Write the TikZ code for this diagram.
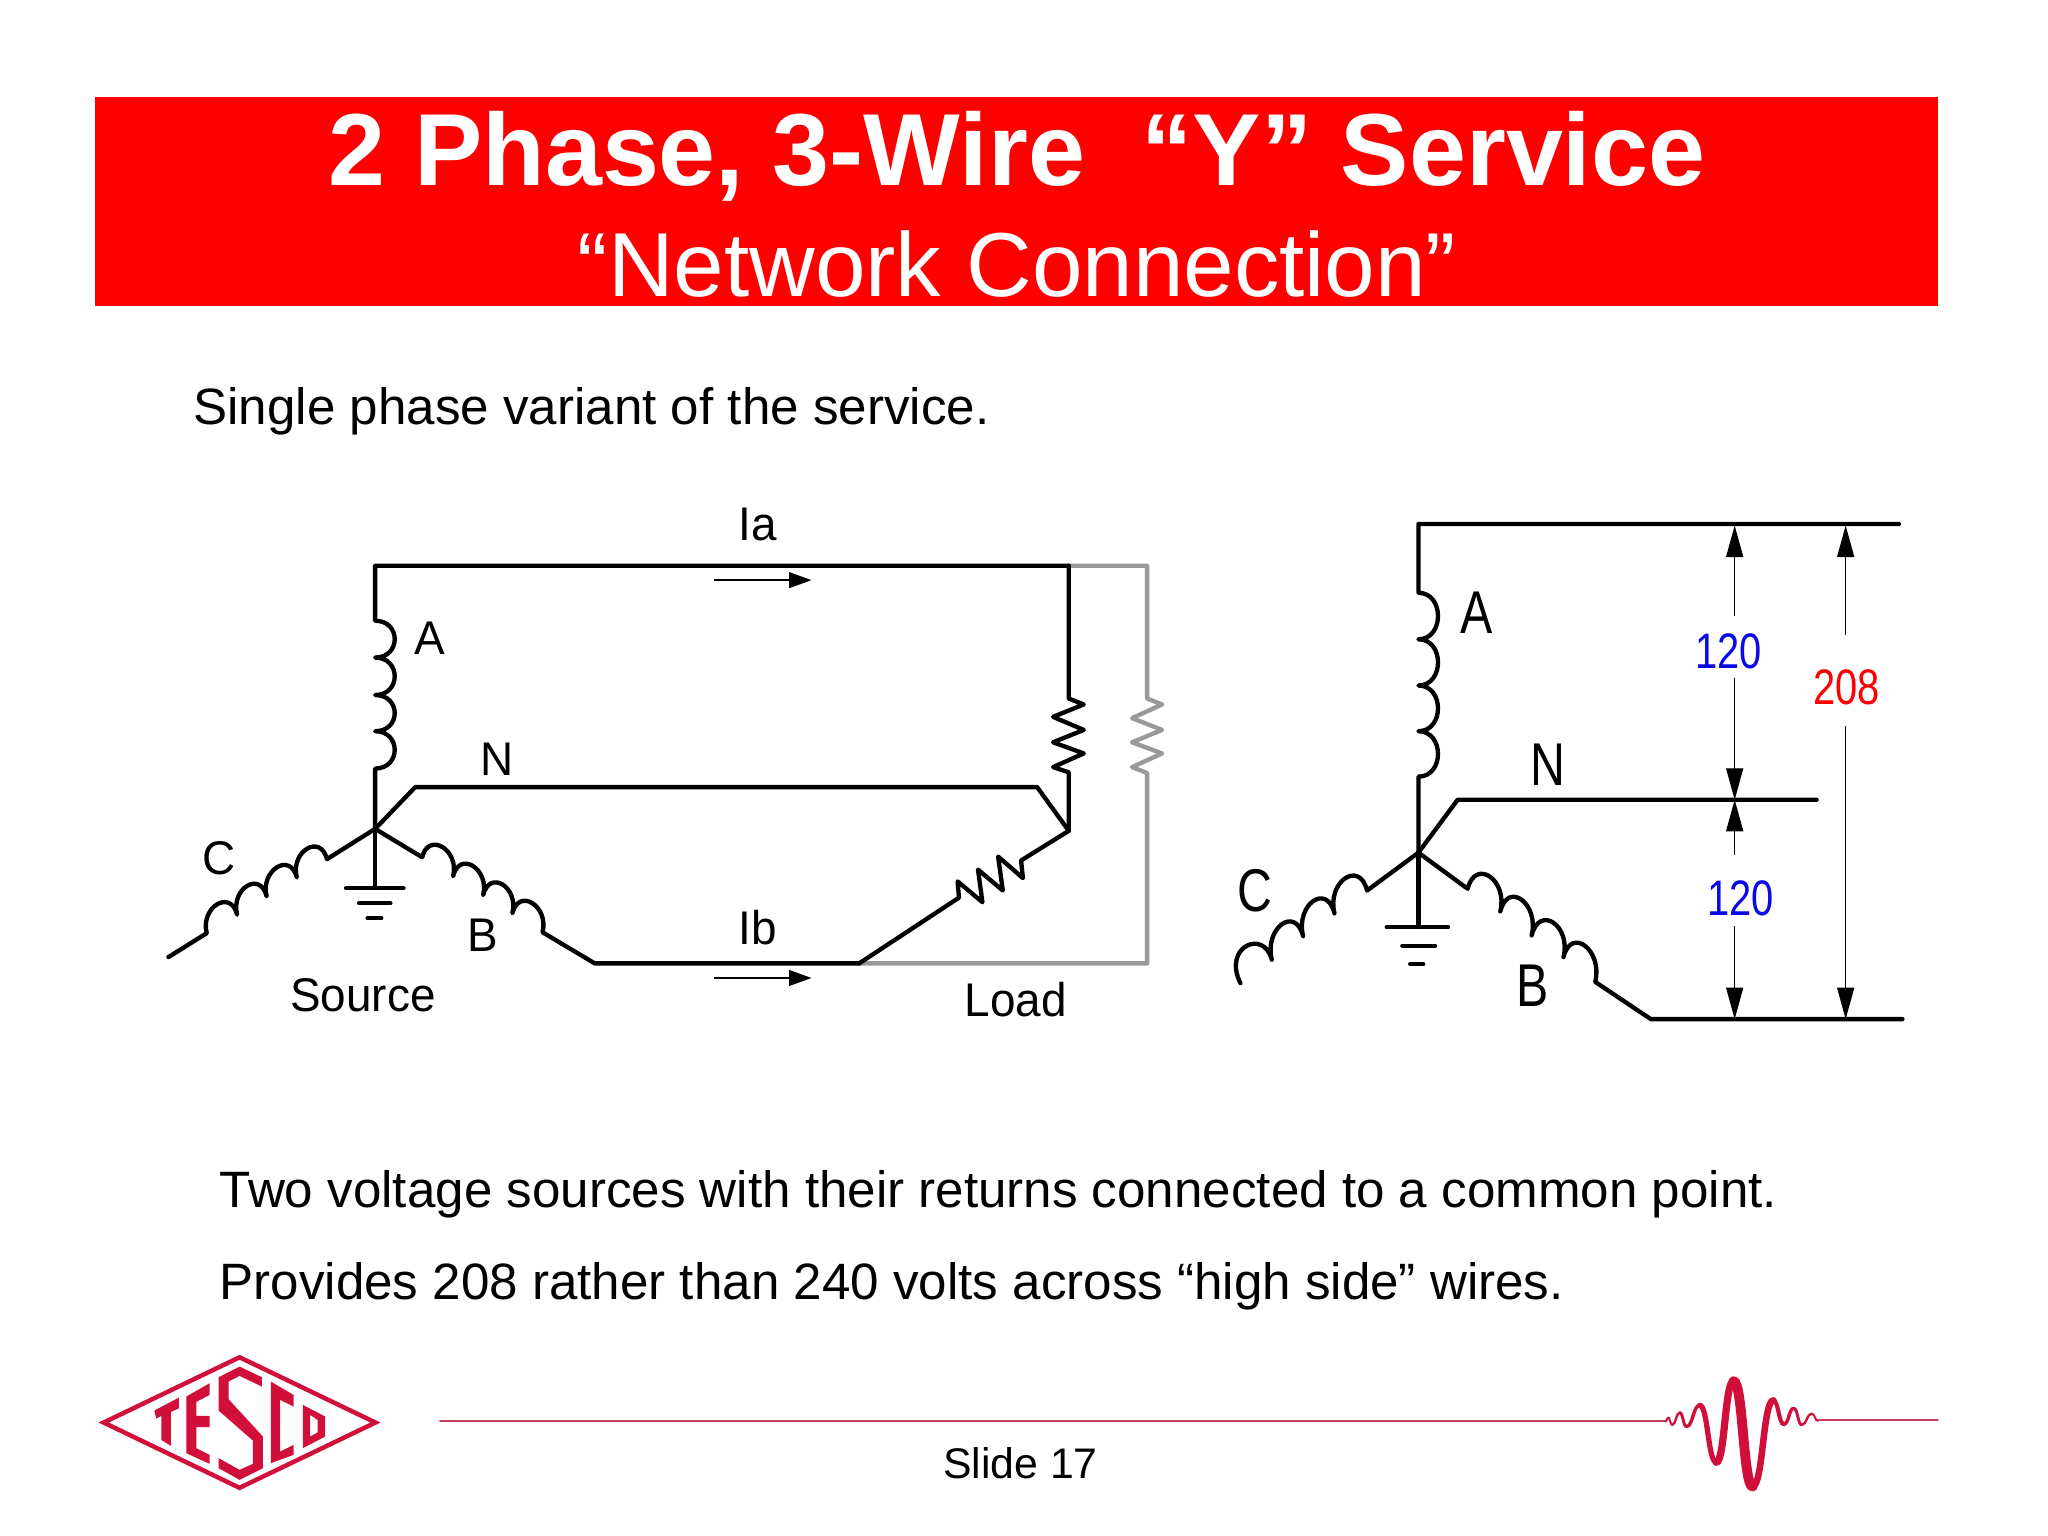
\documentclass[tikz,border=0pt]{standalone}
\usepackage{fontspec}
\setmainfont{Liberation Sans}
\newfontfamily\dgmfont[FakeStretch=0.97]{Liberation Sans}
\newfontfamily\dgmrfont[FakeStretch=0.8]{Liberation Sans}
\usetikzlibrary{arrows.meta}
\definecolor{tescored}{HTML}{D0103A}
\definecolor{rulered}{HTML}{C4405A}
\definecolor{loadgray}{HTML}{999999}
\definecolor{vblue}{HTML}{0A0AE6}
\tikzset{
  wire/.style={line width=3.3pt,line cap=round,line join=round,black},
  graywire/.style={wire,draw=loadgray},
  dim/.style={line width=1pt,black},
  dimhead/.style={dim,-{Triangle[length=24pt,width=13pt]}},
  curhead/.style={dim,-{Triangle[length=17pt,width=12pt]}},
  body/.style={anchor=base west,inner sep=0pt,font=\fontsize{38.95}{48}\selectfont},
  lab/.style={inner sep=0pt,font=\dgmfont\fontsize{36}{40}\selectfont},
  labr/.style={inner sep=0pt,font=\dgmrfont\fontsize{46}{50}\selectfont},
  volt/.style={inner sep=0pt,font=\dgmrfont\fontsize{38}{42}\selectfont},
  logofill/.style={fill=tescored,draw=none},
}
\begin{document}
\begin{tikzpicture}[x=0.9946pt,y=-0.9946pt]
\useasboundingbox (0,0) rectangle (1568.47,1176.35);
\fill[white] (0,0) rectangle (1568.47,1176.35);
% banner
\node[fill={rgb,255:red,255;green,0;blue,0},minimum width=1403.4pt,minimum height=159.1pt,inner sep=0pt,anchor=north west] (banner) at (72.8,74) {};
\node[anchor=base,inner sep=0pt,text=white,font=\bfseries\fontsize{78}{80}\selectfont] (title) at (779,142) {2 Phase, 3-Wire\ \ “Y” Service};
\node[anchor=base,inner sep=0pt,text=white,font=\fontsize{69.2}{72}\selectfont] (subtitle) at (779,227) {“Network Connection”};
% body texts
\node[body] (t1) at (148,325) {Single phase variant of the service.};
\node[body] (t2) at (168,925) {Two voltage sources with their returns connected to a common point.};
\node[body] (t3) at (168,995) {Provides 208 rather than 240 volts across “high side” wires.};
\node[anchor=base,inner sep=0pt,font=\fontsize{32.6}{36}\selectfont] (slide) at (781.5,1132) {Slide 17};

% ---------- left circuit
\coordinate (aTop) at (287.3,433.3);
\coordinate (aEnd) at (818.5,433.3);
\coordinate (star) at (287.3,634.8);
\coordinate (nBend) at (318,602.8);
\coordinate (nEnd) at (794.3,602.8);
\coordinate (lstar) at (818.5,636.3);
\coordinate (bBend) at (455.5,737.8);
\coordinate (bEnd) at (658,737.8);
\coordinate (gTop) at (878.5,433.3);
\coordinate (gBot) at (878.5,737.8);
\coordinate (cEnd) at (129,733);
\coordinate (gnd) at (287.3,680);
% gray load
\draw[graywire] (aEnd) -- (gTop) -- (878.5,535) -- (890,539.5) -- (867,550) -- (890,559) -- (867,568.5) -- (890,577) -- (867,587.5) -- (878.5,592) -- (gBot) -- (bEnd);
% wires
\draw[wire] (star) -- (287.3,588.6) .. controls (307.3,588.6) and (307.3,560) .. (287.3,560)
  .. controls (307.3,560) and (307.3,532.3) .. (287.3,532.3)
  .. controls (307.3,532.3) and (307.3,503.6) .. (287.3,503.6)
  .. controls (307.3,503.6) and (307.3,475.4) .. (287.3,475.4) -- (aTop) -- (aEnd);
\draw[wire] (star) -- (nBend) -- (nEnd) -- (lstar);
\draw[wire] (star) -- (250.4,658)
  .. controls (245.4,638) and (222.3,652) .. (227.3,672)
  .. controls (222.3,652) and (199.2,666.5) .. (204.2,686.5)
  .. controls (199.2,666.5) and (176.6,680.5) .. (181.6,700.5)
  .. controls (176.6,680.5) and (153.3,694.7) .. (158.3,714.7) -- (cEnd);
\draw[wire] (star) -- (323.3,656.5)
  .. controls (328.3,636.5) and (352,651) .. (347,671)
  .. controls (352,651) and (375,665.5) .. (370,685.5)
  .. controls (375,665.5) and (397.4,679.4) .. (392.4,699.4)
  .. controls (397.4,679.4) and (420.5,694) .. (415.5,714) -- (bBend) -- (bEnd);
\draw[wire] (star) -- (gnd);
\draw[wire] (265,680.3) -- (309,680.3);
\draw[wire] (275,691.8) -- (299,691.8);
\draw[wire] (281.5,703.3) -- (292,703.3);
% load resistors
\draw[wire] (aEnd) -- (818.5,535) -- (830,539.5) -- (806.5,549) -- (830,559) -- (806.5,568.5) -- (830,577) -- (806.5,587.5) -- (818.5,591.5) -- (lstar);
\draw[wire] (lstar) -- (782,659) -- (783.4,672.5) -- (764.4,656) -- (768,682) -- (749,666) -- (752.4,691) -- (733.4,675) -- (734.4,687.5) -- (bEnd);
% current arrows
\coordinate (iaS) at (546.5,444.3);
\coordinate (iaE) at (621.5,444.3);
\coordinate (ibS) at (546.5,749);
\coordinate (ibE) at (621.5,749);
\draw[curhead] (iaS) -- (iaE);
\draw[curhead] (ibS) -- (ibE);
% labels left
\node[lab] (lA) at (329,488.5) {A};
\node[lab] (lN) at (381,581.5) {N};
\node[lab] (lC) at (168,657.5) {C};
\node[lab] (lB) at (370,716.5) {B};
\node[lab] (lSource) at (278,762.5) {Source};
\node[lab] (lIa) at (580.5,401.5) {Ia};
\node[lab] (lIb) at (580.5,710.5) {Ib};
\node[lab] (lLoad) at (778,765.5) {Load};

% ---------- right circuit
\coordinate (raTop) at (1086.3,401.3);
\coordinate (raEnd) at (1454.3,401.3);
\coordinate (rstar) at (1086.3,653);
\coordinate (rnBend) at (1116.3,612.5);
\coordinate (rnEnd) at (1391.3,612.5);
\coordinate (rbBend) at (1264.3,780.5);
\coordinate (rbEnd) at (1457,780.5);
\coordinate (rgnd) at (1086.3,710);
\draw[wire] (rstar) -- (1086.3,594.8) .. controls (1106.3,594.8) and (1106.3,560) .. (1086.3,560)
  .. controls (1106.3,560) and (1106.3,525) .. (1086.3,525)
  .. controls (1106.3,525) and (1106.3,489.6) .. (1086.3,489.6)
  .. controls (1106.3,489.6) and (1106.3,454) .. (1086.3,454) -- (raTop) -- (raEnd);
\draw[wire] (rstar) -- (rnBend) -- (rnEnd);
\draw[wire] (rstar) -- (1047,682)
  .. controls (1041,658) and (1016,675.5) .. (1022,699.5)
  .. controls (1016,675.5) and (992,693) .. (998,717)
  .. controls (992,693) and (968,711) .. (974,735)
  .. controls (968,711) and (936,725) .. (950,753);
\draw[wire] (rstar) -- (1124,680.7)
  .. controls (1130,656.7) and (1155,674) .. (1149,698)
  .. controls (1155,674) and (1179,692.4) .. (1173,716.4)
  .. controls (1179,692.4) and (1203.4,709) .. (1197.4,733)
  .. controls (1203.4,709) and (1227.7,728) .. (1221.7,752) -- (rbBend) -- (rbEnd);
\draw[wire] (rstar) -- (rgnd);
\draw[wire] (1062,710) -- (1109,710);
\draw[wire] (1074,724.4) -- (1099,724.4);
\draw[wire] (1080,738.4) -- (1090,738.4);
% dimension arrows
\coordinate (d1a) at (1328.5,472);
\coordinate (d1b) at (1328.5,519);
\coordinate (d1t) at (1328.5,402.5);
\coordinate (dn) at (1328.5,612.5);
\coordinate (d2a) at (1328.5,655);
\coordinate (d2b) at (1328.5,709);
\coordinate (d2e) at (1328.5,780.5);
\coordinate (d3a) at (1413.5,486);
\coordinate (d3b) at (1413.5,556);
\coordinate (d3t) at (1413.5,402.5);
\coordinate (d3e) at (1413.5,780.5);
\draw[dimhead] (d1a) -- (d1t);
\draw[dimhead] (d1b) -- (dn);
\draw[dimhead] (d2a) -- (dn);
\draw[dimhead] (d2b) -- (d2e);
\draw[dimhead] (d3a) -- (d3t);
\draw[dimhead] (d3b) -- (d3e);
% labels right
\node[labr] (rA) at (1130.7,469.4) {A};
\node[labr] (rN) at (1185.7,586) {N};
\node[labr] (rC) at (961,682) {C};
\node[labr] (rB) at (1174,755) {B};
\node[volt,text=vblue] (v1) at (1324,498.5) {120};
\node[volt,text=vblue] (v2) at (1333,688) {120};
\node[volt,text=red] (v3) at (1414,526.5) {208};

% ---------- logo
\begin{scope}[shift={(61.56,1026.2)},x=0.2537pt,y=-0.2537pt]
\draw[tescored,line width=3.4pt,line join=miter] (70,248) -- (478,52) -- (886,248) -- (478,444) -- cycle;
\path[logofill] (222,212) -- (296,173) -- (296,205) -- (272,216) -- (272,318) -- (243,300) -- (243,228) -- (228,236) -- cycle;
\path[logofill] (318,170) -- (388,130) -- (388,165) -- (348,186) -- (348,228) -- (388,228) -- (388,262) -- (348,262) -- (348,325) -- (388,345) -- (388,372) -- (318,340) -- cycle;
\path[logofill] (415,112) -- (478,80) -- (545,112) -- (545,140) -- (478,108) -- (445,125) -- (445,178) -- (548,290) -- (548,385) -- (478,420) -- (415,385) -- (415,355) -- (478,390) -- (518,372) -- (518,302) -- (415,212) -- cycle;
\path[logofill] (572,125) -- (640,165) -- (640,200) -- (600,180) -- (600,335) -- (640,315) -- (640,345) -- (572,370) -- cycle;
\path[logofill,even odd rule] (668,195) -- (735,230) -- (735,290) -- (668,325) -- cycle (690,225) -- (712,240) -- (712,278) -- (690,290) -- cycle;
\end{scope}

% ---------- rule and wave
\coordinate (ruleL) at (337,1088);
\coordinate (ruleM) at (1275.5,1088);
\coordinate (ruleN) at (1391,1087.5);
\coordinate (ruleR) at (1484,1087.5);
\draw[rulered,line width=1.6pt,line cap=round] (ruleL) -- (ruleM);
\draw[rulered,line width=1.6pt,line cap=round] (ruleN) -- (ruleR);
\begin{scope}[shift={(1226.05,1042.5)},x=0.2525pt,y=-0.2525pt]
\def\seg#1#2#3#4#5{\draw[tescored,line width=#5pt,line cap=round] (#1,#2) .. controls ({(#1+#3)/2},#2) and ({(#1+#3)/2},#4) .. (#3,#4);}
\seg{195}{182}{203}{170}{1.5}
\seg{203}{170}{215}{192}{1.5}
\seg{215}{192}{238}{155}{1.8}
\seg{238}{155}{258}{197}{2.2}
\seg{258}{197}{298}{133}{2.6}
\seg{298}{133}{348}{305}{4}
\seg{348}{305}{400}{60}{5.5}
\seg{400}{60}{458}{378}{7.5}
\seg{458}{378}{520}{118}{5}
\seg{520}{118}{552}{190}{3.2}
\seg{552}{190}{582}{142}{2.6}
\seg{582}{142}{606}{192}{2.2}
\seg{606}{192}{636}{158}{1.8}
\seg{636}{158}{655}{180}{1.5}
\end{scope}
\end{tikzpicture}
\end{document}
